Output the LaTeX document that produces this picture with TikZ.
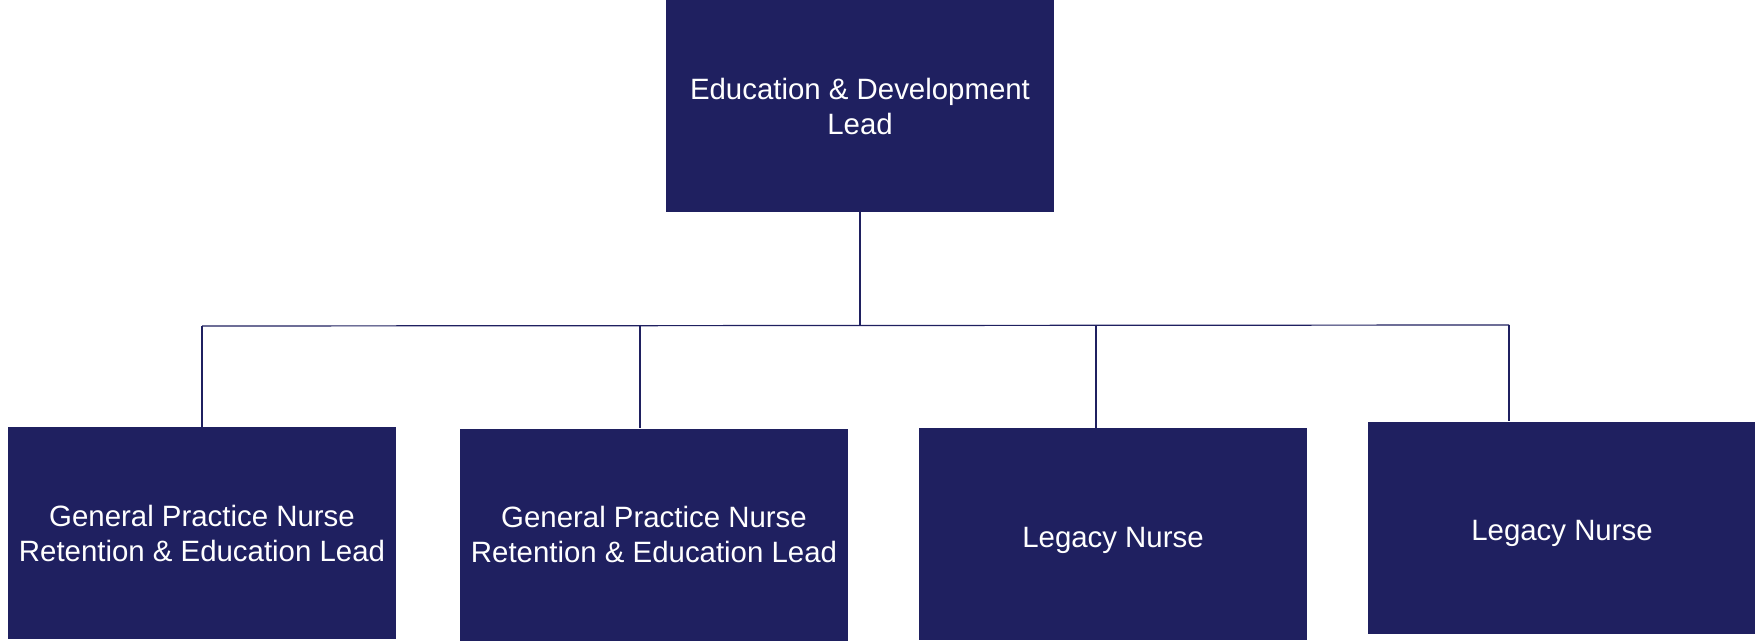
\documentclass[tikz,border=0pt]{standalone}
\usepackage{fontspec}
\setmainfont{Liberation Sans}
\definecolor{navy}{RGB}{31,32,96}
\begin{document}
\begin{tikzpicture}[x=0.5pt,y=-0.5pt,line join=round]
	\tikzset{rolebox/.style={fill=navy,text=white,minimum width=194pt,minimum height=106pt,inner sep=0pt,align=center,font=\fontsize{14.7pt}{17.5pt}\selectfont},
		oneline/.style={text height=13pt,text depth=0pt},
		link/.style={draw=navy,line width=0.6pt}}
	\useasboundingbox (0,0) rectangle (1755,641);
	% Ô trên cùng
	\node[rolebox] (lead) at (860,106) {Education \& Development\\Lead};
	% Các ô cấp dưới
	\node[rolebox] (gpn1) at (202,533) {General Practice Nurse\\Retention \& Education Lead};
	\node[rolebox] (gpn2) at (654,534.5) {General Practice Nurse\\Retention \& Education Lead};
	\node[rolebox,oneline] (leg1) at (1113,534) {Legacy Nurse};
	\node[rolebox,oneline] (leg2) at (1562,527.5) {Legacy Nurse};
	% Đường nối
	\coordinate (mid) at (860,325);
	\coordinate (b1) at (202,326);
	\coordinate (b2) at (640,325);
	\coordinate (b3) at (1096,325);
	\coordinate (b4) at (1509,325);
	\draw[link] (lead.south) -- (mid);
	\draw[link] (b1) -- (b4);
	\foreach \b/\n in {b1/gpn1,b2/gpn2,b3/leg1,b4/leg2}{
		\draw[link] (\b) -- (\b |- \n.north);
	}
\end{tikzpicture}
\end{document}
